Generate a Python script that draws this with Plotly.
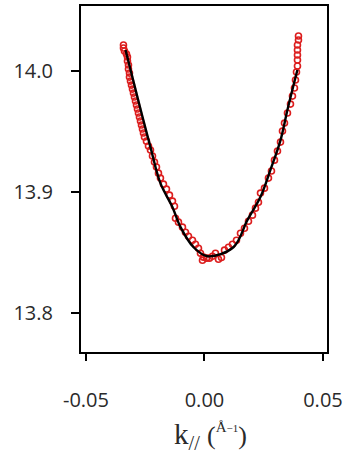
import plotly.graph_objects as go

# Measured data points (red open circles)
k_data = [-0.03418, -0.03418, -0.03376, -0.03291, -0.03249, -0.03249, -0.03207, -0.03207,
          -0.03165, -0.03165, -0.03122, -0.03080, -0.03038, -0.02996, -0.02954, -0.02911,
          -0.02869, -0.02827, -0.02785, -0.02743, -0.02700, -0.02658, -0.02616, -0.02574,
          -0.02532, -0.02447, -0.02363, -0.02278, -0.02194, -0.02110, -0.02025, -0.01941,
          -0.01857, -0.01730, -0.01603, -0.01477, -0.01350, -0.01266, -0.01224, -0.01097,
          -0.00928, -0.00802, -0.00675, -0.00506, -0.00380, -0.00253, -0.00169, -0.00084,
          -0.00042, 0.00084, 0.00211, 0.00338, 0.00464, 0.00591, 0.00717, 0.00844,
          0.01013, 0.01181, 0.01350, 0.01519, 0.01688, 0.01857, 0.02025, 0.02152,
          0.02278, 0.02363, 0.02532, 0.02700, 0.02827, 0.02954, 0.03080, 0.03207,
          0.03291, 0.03376, 0.03502, 0.03629, 0.03713, 0.03797, 0.03840, 0.03882,
          0.03924, 0.03924, 0.03924, 0.03924, 0.03924, 0.03966, 0.03966]
E_data = [14.0215, 14.0190, 14.0165, 14.0140, 14.0116, 14.0083, 14.0050, 14.0017,
          13.9983, 13.9950, 13.9917, 13.9884, 13.9851, 13.9818, 13.9785, 13.9752,
          13.9719, 13.9686, 13.9653, 13.9620, 13.9587, 13.9554, 13.9521, 13.9488,
          13.9455, 13.9421, 13.9380, 13.9347, 13.9298, 13.9248, 13.9207, 13.9157,
          13.9116, 13.9066, 13.9025, 13.8975, 13.8926, 13.8884, 13.8785, 13.8752,
          13.8711, 13.8669, 13.8636, 13.8603, 13.8570, 13.8537, 13.8496, 13.8438,
          13.8463, 13.8455, 13.8455, 13.8471, 13.8496, 13.8446, 13.8460, 13.8521,
          13.8545, 13.8570, 13.8603, 13.8661, 13.8702, 13.8760, 13.8810, 13.8868,
          13.8917, 13.8992, 13.9033, 13.9116, 13.9174, 13.9264, 13.9339, 13.9413,
          13.9504, 13.9570, 13.9653, 13.9727, 13.9793, 13.9860, 13.9926, 13.9992,
          14.0041, 14.0091, 14.0132, 14.0174, 14.0215, 14.0256, 14.0289]

# Fitted dispersion (black line)
k_fit = [-0.0333, -0.0283, -0.0228, -0.0186, -0.0135, -0.0101, -0.0046, 0.0013,
         0.0122, 0.0181, 0.0236, 0.0278, 0.0321, 0.0350, 0.0392]
E_fit = [14.0174, 13.9785, 13.9372, 13.9074, 13.8876, 13.8711, 13.8545, 13.8471,
         13.8545, 13.8769, 13.8959, 13.9182, 13.9430, 13.9678, 14.0008]

x_ticks = [-0.05, 0.00, 0.05]
x_tick_labels = ["-0.05", "0.00", "0.05"]
y_ticks = [13.8, 13.9, 14.0]
y_tick_labels = ["13.8", "13.9", "14.0"]

fig = go.Figure()
fig.add_trace(go.Scatter(
    x=k_data, y=E_data, mode="markers",
    marker=dict(symbol="circle-open", size=6, color="rgb(220,30,30)",
                line=dict(width=1.6, color="rgb(220,30,30)")),
    showlegend=False, hoverinfo="skip"))
fig.add_trace(go.Scatter(
    x=k_fit, y=E_fit, mode="lines", line=dict(color="black", width=2.4, shape="spline"),
    showlegend=False, hoverinfo="skip"))

tick_font = dict(family="Open Sans, sans-serif", size=20, color="#2a2a2a")
fig.update_xaxes(range=[-0.0521, 0.0517], tickvals=x_ticks, ticktext=x_tick_labels,
                 ticks="outside", ticklen=7, tickwidth=2, tickcolor="black",
                 showline=True, linecolor="black", linewidth=2, mirror=True,
                 showgrid=False, zeroline=False, tickfont=tick_font,
                 ticklabelstandoff=22, automargin=False)
fig.update_yaxes(range=[13.768, 14.0537], tickvals=y_ticks, ticktext=y_tick_labels,
                 ticks="outside", ticklen=8, tickwidth=2, tickcolor="black",
                 showline=True, linecolor="black", linewidth=2, mirror=True,
                 showgrid=False, zeroline=False, tickfont=tick_font,
                 ticklabelstandoff=14, automargin=False)

title_text = ("k<sub>//</sub> <span style='font-size:26px'>(</span>"
              "<sup><span style='font-size:15px'>Å</span>"
              "<span style='font-size:11px'>−1</span></sup>"
              "<span style='font-size:26px'>)</span>")
fig.add_annotation(
    xref="paper", yref="paper", x=0.528, y=-0.243, xanchor="center", yanchor="middle",
    showarrow=False, text=title_text,
    font=dict(family="Liberation Serif, DejaVu Serif, serif", size=29, color="#2a2a2a"))

fig.update_layout(width=345, height=454, margin=dict(l=81, r=18, t=6, b=102),
                  plot_bgcolor="white", paper_bgcolor="white")
fig.write_html("out.html", config={"displayModeBar": False},
               post_script="document.body.style.margin='0';document.body.style.overflow='hidden';")
